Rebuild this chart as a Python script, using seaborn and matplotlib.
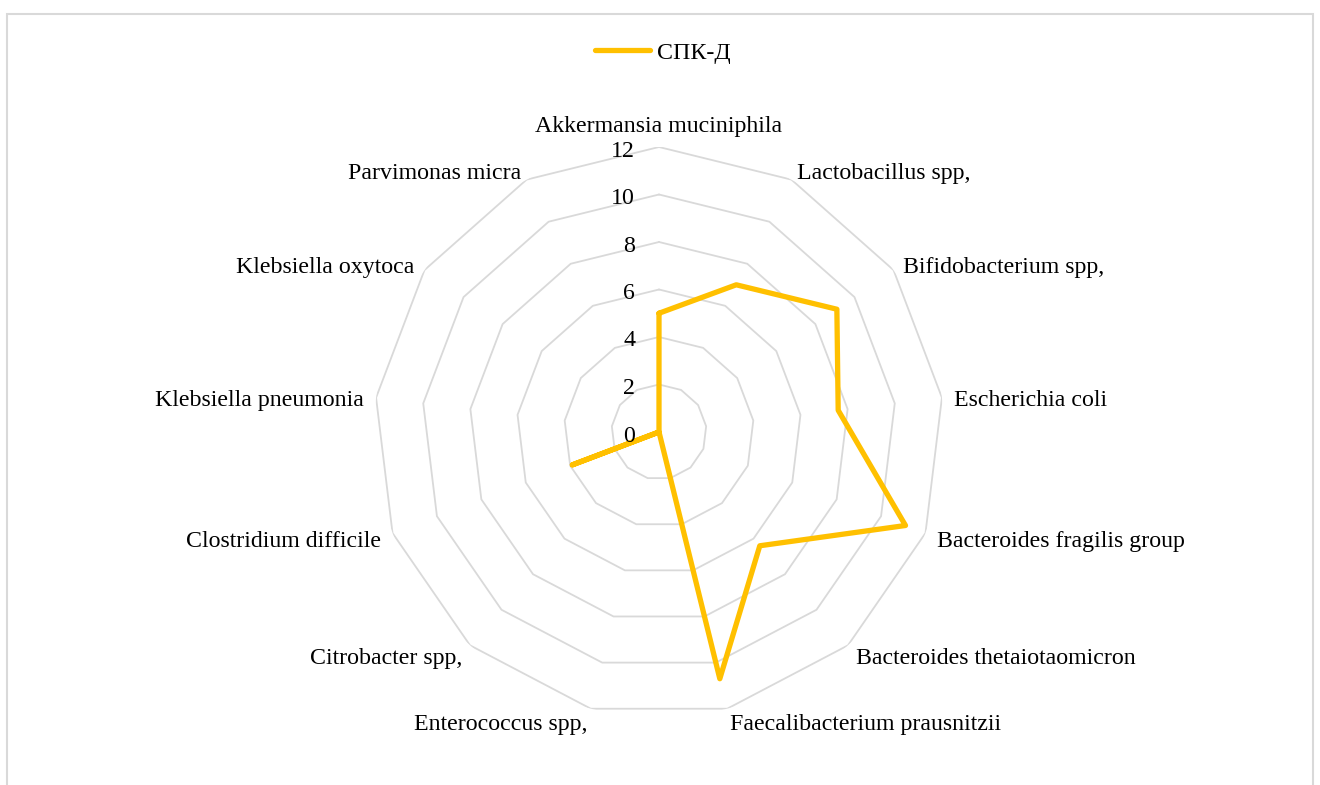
import numpy as np
import pandas as pd
import matplotlib
matplotlib.use("Agg")
import matplotlib.pyplot as plt
from matplotlib.patches import Rectangle
import seaborn as sns

categories = [
    "Akkermansia muciniphila", "Lactobacillus spp,", "Bifidobacterium spp,",
    "Escherichia coli", "Bacteroides fragilis group", "Bacteroides thetaiotaomicron",
    "Faecalibacterium prausnitzii", "Enterococcus spp,", "Citrobacter spp,",
    "Clostridium difficile", "Klebsiella pneumonia", "Klebsiella oxytoca",
    "Parvimonas micra",
]
values = [5.0, 7.0, 9.1, 7.6, 11.1, 6.4, 10.7, 0.0, 0.0, 3.9, 0.0, 0.0, 0.0]
series_name = "СПК-Д"
ticks = [0, 2, 4, 6, 8, 10, 12]

sns.set_theme(style="white")
plt.rcParams["font.family"] = ["Liberation Serif", "DejaVu Serif"]

W, H = 1320, 785
fig = plt.figure(figsize=(W / 100, H / 100), dpi=100)
cx, cy, R = 659, 432, 285
ax = fig.add_axes([(cx - R) / W, (H - cy - R) / H, 2 * R / W, 2 * R / H], projection="polar")
ax.set_theta_zero_location("N")
ax.set_theta_direction(-1)
ax.set_ylim(0, max(ticks))
ax.grid(False)
ax.spines["polar"].set_visible(False)
ax.set_xticks([])
ax.set_yticks([])
ax.set_facecolor("none")

n = len(categories)
theta = np.arange(n) * 2 * np.pi / n
theta_closed = np.append(theta, 2 * np.pi)

# polygon gridlines
for t in ticks[1:]:
    ax.plot(theta_closed, np.full(n + 1, t), color="#d9d9d9", lw=1.3, zorder=1)

df = pd.DataFrame({"theta": theta_closed, "value": values + [values[0]]})
sns.lineplot(data=df, x="theta", y="value", ax=ax, color="#FFC000", lw=3.8,
             sort=False, estimator=None, zorder=3, legend=False)
ax.set_xlabel("")
ax.set_ylabel("")

fs = 17.2
# radial tick labels
for t in ticks:
    ax.annotate(str(t), xy=(0, t), xytext=(-24, -4), textcoords="offset pixels",
                ha="right", va="center", fontsize=fs, color="black")

# category labels
for th, lab in zip(theta, categories):
    s, c = np.sin(th), np.cos(th)
    dx, dy = 12 * s, 12 * c - 4
    if abs(s) < 0.1:
        ha = "center"
        dy = 21 if c > 0 else -25
    elif s > 0:
        ha = "left"
    else:
        ha = "right"
    ax.annotate(lab, xy=(th, max(ticks)), xytext=(dx, dy), textcoords="offset pixels",
                ha=ha, va="center", fontsize=fs, color="black", annotation_clip=False)

handle = plt.Line2D([], [], color="#FFC000", lw=3.8)
fig.legend([handle], [series_name], loc="center", bbox_to_anchor=(663 / W, 1 - 53 / H),
           frameon=False, fontsize=fs, handlelength=2.3, handletextpad=0.3,
           labelcolor="black")

fig.patches.append(Rectangle((7 / W, -0.05), (1313 - 7) / W, 1.05 - 13.5 / H,
                             transform=fig.transFigure, fill=False,
                             edgecolor="#d9d9d9", lw=1.5))

fig.savefig("out.png", dpi=100, facecolor="white")
